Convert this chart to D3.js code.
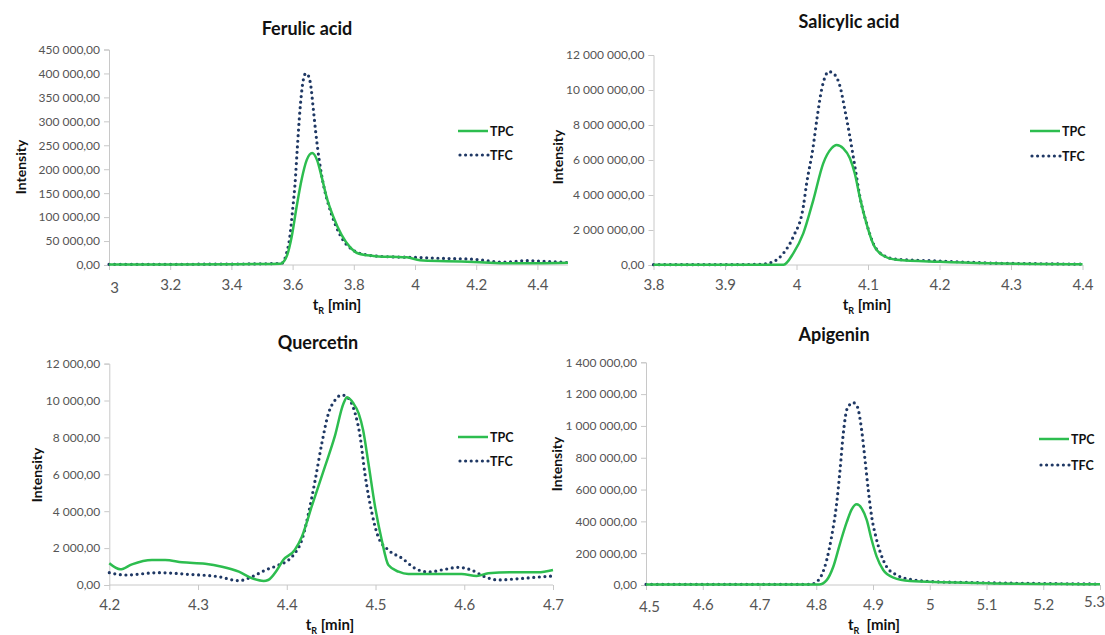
<!DOCTYPE html>
<html>
<head>
<meta charset="utf-8">
<script src="https://cdn.jsdelivr.net/npm/d3@7"></script>
<style>
  html, body { margin: 0; padding: 0; background: #ffffff; }
  svg { display: block; font-family: Lato, "Open Sans", "Liberation Sans", sans-serif; }
</style>
</head>
<body>
<svg id="chart" width="1105" height="635"></svg>
<script>
// ---- Ferulic acid ----
const ferulicTpcT = [3.0, 3.2, 3.4, 3.5, 3.56, 3.58, 3.597, 3.613, 3.629, 3.646, 3.664, 3.68, 3.695, 3.711, 3.733, 3.76, 3.787, 3.815, 3.864, 3.92, 3.973, 4.016, 4.103, 4.212, 4.3, 4.4, 4.5];
const ferulicTpcV = [1000, 1000, 1500, 2000, 2500, 17000, 59000, 121000, 177000, 219000, 234000, 219000, 184000, 142000, 101000, 63000, 38000, 24000, 19000, 17000, 16000, 10000, 8000, 6000, 3500, 3500, 4500];
const ferulicTfcT = [3.0, 3.2, 3.4, 3.5, 3.564, 3.58, 3.591, 3.6, 3.608, 3.615, 3.624, 3.633, 3.643, 3.651, 3.66, 3.667, 3.676, 3.687, 3.7, 3.716, 3.738, 3.765, 3.798, 3.842, 3.918, 3.994, 4.081, 4.19, 4.288, 4.365, 4.44, 4.5];
const ferulicTfcV = [1500, 1500, 2000, 2500, 3500, 24000, 59000, 115000, 170000, 240000, 323000, 379000, 400000, 396000, 372000, 330000, 275000, 219000, 170000, 129000, 87000, 52000, 31000, 21000, 17000, 16000, 14000, 12000, 6000, 9000, 7000, 5000];
const ferulicXTicks = [3, 3.2, 3.4, 3.6, 3.8, 4, 4.2, 4.4];
const ferulicYTicks = [0, 50000, 100000, 150000, 200000, 250000, 300000, 350000, 400000, 450000];

// ---- Salicylic acid ----
const salicylicTpcT = [3.8, 3.9, 3.96, 3.982, 3.9955, 4.0095, 4.0235, 4.0374, 4.049, 4.056, 4.0654, 4.0747, 4.0817, 4.0887, 4.098, 4.1073, 4.121, 4.14, 4.2, 4.27, 4.34, 4.4];
const salicylicTpcV = [15000, 15000, 15000, 20000, 668000, 1810000, 3710000, 5810000, 6670000, 6860000, 6670000, 6100000, 5200000, 3850000, 2350000, 1200000, 540000, 300000, 180000, 95000, 57000, 40000];
const salicylicTfcT = [3.8, 3.9, 3.95, 3.9676, 3.9816, 3.9955, 4.0095, 4.0142, 4.0226, 4.029, 4.035, 4.0454, 4.0538, 4.061, 4.0677, 4.0747, 4.0817, 4.0887, 4.098, 4.1073, 4.121, 4.14, 4.2, 4.27, 4.34, 4.4];
const salicylicTfcV = [20000, 20000, 40000, 190000, 668000, 1620000, 3330000, 4670000, 6570000, 8470000, 10000000, 11050000, 10860000, 10190000, 8860000, 7330000, 5620000, 3900000, 2380000, 1240000, 571000, 325000, 228000, 114000, 71000, 50000];
const salicylicXTicks = [3.8, 3.9, 4, 4.1, 4.2, 4.3, 4.4];
const salicylicYTicks = [0, 2000000, 4000000, 6000000, 8000000, 10000000, 12000000];

// ---- Quercetin ----
const quercetinTpcT = [4.2, 4.2124, 4.2255, 4.248, 4.263, 4.282, 4.308, 4.327, 4.346, 4.361, 4.374, 4.379, 4.389, 4.396, 4.409, 4.417, 4.428, 4.443, 4.454, 4.464, 4.468, 4.475, 4.481, 4.486, 4.492, 4.4995, 4.507, 4.5145, 4.526, 4.537, 4.56, 4.597, 4.614, 4.627, 4.653, 4.683, 4.7];
const quercetinTpcV = [1176, 850, 1120, 1355, 1355, 1230, 1155, 992, 721, 363, 217, 271, 813, 1355, 1897, 2618, 4244, 6412, 8038, 9848, 10173, 9848, 9306, 8401, 6596, 4244, 2439, 1084, 721, 596, 596, 596, 488, 632, 686, 686, 813];
const quercetinTfcT = [4.2, 4.218, 4.2555, 4.289, 4.323, 4.346, 4.361, 4.376, 4.391, 4.402, 4.409, 4.417, 4.4245, 4.432, 4.4395, 4.447, 4.4545, 4.462, 4.4695, 4.477, 4.4827, 4.488, 4.496, 4.503, 4.5145, 4.53, 4.5445, 4.56, 4.578, 4.593, 4.608, 4.623, 4.638, 4.657, 4.68, 4.7];
const quercetinTfcV = [668, 542, 668, 578, 452, 235, 452, 813, 1084, 1355, 1717, 2439, 3885, 5691, 7679, 9306, 10027, 10298, 10117, 9306, 8038, 6054, 3885, 2618, 1897, 1447, 904, 705, 849, 958, 813, 452, 271, 325, 416, 488];
const quercetinXTicks = [4.2, 4.3, 4.4, 4.5, 4.6, 4.7];
const quercetinYTicks = [0, 2000, 4000, 6000, 8000, 10000, 12000];

// ---- Apigenin ----
const apigeninTpcT = [4.5, 4.7, 4.805, 4.8184, 4.83, 4.842, 4.8537, 4.8625, 4.8713, 4.88, 4.8889, 4.8977, 4.9065, 4.918, 4.936, 4.965, 5.024, 5.112, 5.23, 5.3];
const apigeninTpcV = [3000, 3000, 3000, 31000, 115000, 262000, 395000, 476000, 507000, 482000, 409000, 283000, 178000, 94000, 46000, 25000, 17000, 10000, 6000, 5000];
const apigeninTfcT = [4.5, 4.7, 4.789, 4.801, 4.8096, 4.8184, 4.827, 4.836, 4.8419, 4.8477, 4.8547, 4.8653, 4.8724, 4.88, 4.886, 4.8917, 4.8977, 4.905, 4.9135, 4.924, 4.9418, 4.965, 5.006, 5.083, 5.23, 5.3];
const apigeninTfcV = [4000, 4000, 4000, 21000, 63000, 157000, 304000, 514000, 723000, 954000, 1111000, 1146000, 1121000, 974000, 786000, 597000, 429000, 304000, 199000, 115000, 63000, 36000, 21000, 15000, 8000, 6000];
const apigeninXTicks = [4.5, 4.6, 4.7, 4.8, 4.9, 5, 5.1, 5.2, 5.3];
const apigeninYTicks = [0, 200000, 400000, 600000, 800000, 1000000, 1200000, 1400000];

const seriesNames = ["TPC", "TFC"];

// number format with space thousands separator and comma decimal mark
const locale = d3.formatLocale({ decimal: ",", thousands: "\u00a0", grouping: [3], currency: ["", ""] });
const fmtY = locale.format(",.2f");
const fmtX = d3.format("~g");

const GREEN = "#2dbd4f";
const NAVY = "#1f3864";
const AXIS = "#c8c8c8";
const LABEL = "#555555";

const svg = d3.select("#chart");

const panels = [
  {
    title: "Ferulic acid", tpcT: ferulicTpcT, tpcV: ferulicTpcV, tfcT: ferulicTfcT, tfcV: ferulicTfcV,
    xDomain: [3, 4.5], yDomain: [0, 450000], xTicks: ferulicXTicks, yTicks: ferulicYTicks,
    x0: 109, x1: 568, y0: 265, y1: 49.5,
    titleX: 307, titleY: 35, yTitleX: 20, yTitleY: 167, xTitleX: 337, xTitleY: 310,
    legX: 458, legY: 131, legGap: 24, xTitleGap: false,
    firstShift: [5, 3], lastShift: [0, 0]
  },
  {
    title: "Salicylic acid", tpcT: salicylicTpcT, tpcV: salicylicTpcV, tfcT: salicylicTfcT, tfcV: salicylicTfcV,
    xDomain: [3.8, 4.4], yDomain: [0, 12000000], xTicks: salicylicXTicks, yTicks: salicylicYTicks,
    x0: 653.5, x1: 1082.5, y0: 265, y1: 55,
    titleX: 849, titleY: 28, yTitleX: 557, yTitleY: 157, xTitleX: 867, xTitleY: 310,
    legX: 1030, legY: 131, legGap: 25, xTitleGap: false,
    firstShift: [0, 0], lastShift: [0, 0]
  },
  {
    title: "Quercetin", tpcT: quercetinTpcT, tpcV: quercetinTpcV, tfcT: quercetinTfcT, tfcV: quercetinTfcV,
    xDomain: [4.2, 4.7], yDomain: [0, 12000], xTicks: quercetinXTicks, yTicks: quercetinYTicks,
    x0: 109.3, x1: 553, y0: 585, y1: 363.6,
    titleX: 318, titleY: 349, yTitleX: 36, yTitleY: 475, xTitleX: 330, xTitleY: 630,
    legX: 458, legY: 437, legGap: 24, xTitleGap: false,
    firstShift: [0, 0], lastShift: [0, 0]
  },
  {
    title: "Apigenin", tpcT: apigeninTpcT, tpcV: apigeninTpcV, tfcT: apigeninTfcT, tfcV: apigeninTfcV,
    xDomain: [4.5, 5.3], yDomain: [0, 1400000], xTicks: apigeninXTicks, yTicks: apigeninYTicks,
    x0: 646, x1: 1100, y0: 585, y1: 362.3,
    titleX: 834, titleY: 341, yTitleX: 556, yTitleY: 464, xTitleX: 874, xTitleY: 630,
    legX: 1039, legY: 439, legGap: 26, xTitleGap: true,
    firstShift: [3, 2], lastShift: [-6, -3]
  }
];

panels.forEach(p => {
  const g = svg.append("g");
  const x = d3.scaleLinear().domain(p.xDomain).range([p.x0, p.x1]);
  const y = d3.scaleLinear().domain(p.yDomain).range([p.y0, p.y1]);

  // y axis
  const yAxis = g.append("g")
    .attr("transform", `translate(${p.x0},0)`)
    .call(d3.axisLeft(y).tickValues(p.yTicks).tickFormat(fmtY).tickSize(5).tickPadding(4));
  yAxis.select(".domain").attr("stroke", AXIS);
  yAxis.selectAll(".tick line").attr("stroke", AXIS);
  yAxis.selectAll(".tick text").attr("fill", LABEL).attr("font-size", 12)
    .attr("font-family", "Lato, 'Open Sans', sans-serif");

  // x axis
  const xAxis = g.append("g")
    .attr("transform", `translate(0,${p.y0})`)
    .call(d3.axisBottom(x).tickValues(p.xTicks).tickFormat(fmtX).tickSize(5).tickPadding(9).tickSizeOuter(0));
  xAxis.select(".domain").attr("stroke", AXIS).attr("d", `M${p.x0},0H${p.x1}`);
  xAxis.selectAll(".tick line").attr("stroke", AXIS);
  const xLabels = xAxis.selectAll(".tick text").attr("fill", LABEL).attr("font-size", 15)
    .attr("font-family", "Lato, 'Open Sans', sans-serif");
  // end labels nudged the way the spreadsheet layout places them
  const n = xLabels.size();
  xLabels.each(function (d, i) {
    const s = i === 0 ? p.firstShift : (i === n - 1 ? p.lastShift : [0, 0]);
    if (s[0] || s[1]) d3.select(this).attr("transform", `translate(${s[0]},${s[1]})`);
  });

  // curves
  const line = d3.line()
    .x(d => x(d[0]))
    .y(d => y(d[1]))
    .curve(d3.curveMonotoneX);

  const tfc = d3.zip(p.tfcT, p.tfcV);
  const tpc = d3.zip(p.tpcT, p.tpcV);

  g.append("path")
    .datum(tfc)
    .attr("fill", "none")
    .attr("stroke", NAVY)
    .attr("stroke-width", 3.2)
    .attr("stroke-linecap", "round")
    .attr("stroke-dasharray", "0 5.6")
    .attr("d", line);

  g.append("path")
    .datum(tpc)
    .attr("fill", "none")
    .attr("stroke", GREEN)
    .attr("stroke-width", 2.5)
    .attr("d", line);

  // title
  g.append("text")
    .attr("x", p.titleX).attr("y", p.titleY)
    .attr("text-anchor", "middle")
    .attr("font-size", 18).attr("font-weight", "bold").attr("fill", "#111")
    .text(p.title);

  // y axis title
  g.append("text")
    .attr("transform", `translate(${p.yTitleX},${p.yTitleY}) rotate(-90)`)
    .attr("text-anchor", "middle").attr("dominant-baseline", "central")
    .attr("font-size", 14).attr("font-weight", "bold").attr("fill", "#111")
    .text("Intensity");

  // x axis title: t with subscript R
  const xt = g.append("text")
    .attr("x", p.xTitleX).attr("y", p.xTitleY)
    .attr("text-anchor", "middle")
    .attr("font-size", 15).attr("font-weight", "bold").attr("fill", "#111");
  xt.append("tspan").text("t");
  xt.append("tspan").attr("font-size", 9).attr("dy", 4).text("R");
  xt.append("tspan").attr("dy", -4).text(p.xTitleGap ? "\u00a0\u00a0[min]" : " [min]");

  // legend
  const leg = g.append("g").attr("transform", `translate(${p.legX},${p.legY})`);
  seriesNames.forEach((name, i) => {
    const row = leg.append("g").attr("transform", `translate(0,${i * p.legGap})`);
    const l = row.append("line").attr("x1", 0).attr("x2", 30).attr("y1", 0).attr("y2", 0);
    if (i === 0) {
      l.attr("stroke", GREEN).attr("stroke-width", 2.5);
    } else {
      l.attr("x1", 2).attr("stroke", NAVY).attr("stroke-width", 3.2)
        .attr("stroke-linecap", "round").attr("stroke-dasharray", "0 5.6");
    }
    row.append("text")
      .attr("x", 32).attr("y", 0)
      .attr("dominant-baseline", "central")
      .attr("font-size", 12.5).attr("font-weight", "bold").attr("fill", "#111")
      .text(name);
  });
});
</script>
</body>
</html>
